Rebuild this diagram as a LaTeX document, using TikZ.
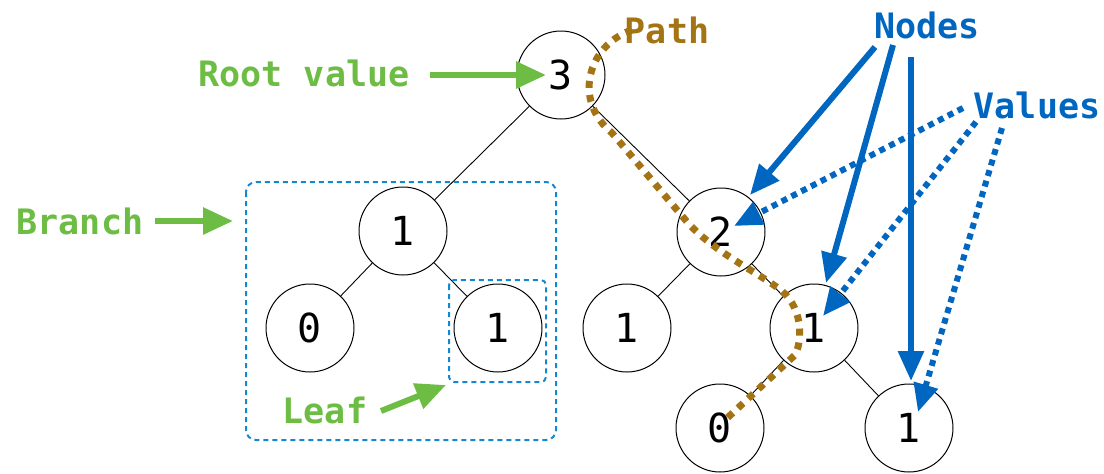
\documentclass[tikz,border=0pt]{standalone}
\usepackage{fontspec}
\newfontfamily\monofont{DejaVu Sans Mono}
\usetikzlibrary{arrows.meta}
\definecolor{lgreen}{RGB}{109,189,69}
\definecolor{dblue}{RGB}{0,102,192}
\definecolor{boxblue}{RGB}{20,135,210}
\definecolor{pbrown}{RGB}{164,116,20}
\tikzset{
  tnode/.style={circle,draw,line width=1pt,minimum size=88pt,inner sep=0pt,font=\fontsize{40}{40}\selectfont\monofont},
  tedge/.style={line width=0.9pt},
  lbl/.style={font=\fontsize{35}{35}\selectfont\monofont\bfseries,inner sep=0pt},
  garrow/.style={lgreen,line width=6pt,-{Triangle[length=30pt,width=26pt]}},
  barrow/.style={dblue,line width=6pt,-{Triangle[length=30pt,width=25pt]}},
  bdot/.style={dblue,line width=6pt,dash pattern=on 6pt off 5pt,-{Triangle[length=28pt,width=24pt]}},
  dbox/.style={boxblue,line width=2pt,dash pattern=on 5pt off 4pt,rounded corners=10pt},
}
\begin{document}
\begin{tikzpicture}[x=1pt,y=-1pt]
\useasboundingbox (0,0) rectangle (1104,474);
% tree nodes
\node[tnode] (r) at (561,75) {3};
\node[tnode] (a) at (403,231) {1};
\node[tnode] (a0) at (310,328) {0};
\node[tnode] (a1) at (498,328) {1};
\node[tnode] (b) at (721,232) {2};
\node[tnode] (b0) at (627,328) {1};
\node[tnode] (b1) at (814,328) {1};
\node[tnode] (c0) at (720,428) {0};
\node[tnode] (c1) at (909,428) {1};
\draw[tedge] (r) -- (a);
\draw[tedge] (r) -- (b);
\draw[tedge] (a) -- (a0);
\draw[tedge] (a) -- (a1);
\draw[tedge] (b) -- (b0);
\draw[tedge] (b) -- (b1);
\draw[tedge] (b1) -- (c0);
\draw[tedge] (b1) -- (c1);
% dashed boxes
\draw[dbox] (246,182) rectangle (556,440);
\draw[dbox,rounded corners=5pt] (449,280) rectangle (546,382);
% labels
\node[lbl,text=lgreen] (rv) at (304,73) {Root value};
\node[lbl,text=lgreen] (br) at (80,221) {Branch};
\node[lbl,text=lgreen] (lf) at (325,410) {Leaf};
\node[lbl,text=pbrown] (pa) at (667,30) {Path};
\node[lbl,text=dblue] (nd) at (927,25) {Nodes};
\node[lbl,text=dblue] (vl) at (1037,105) {Values};
% green arrows
\coordinate (rvs) at (430,75);
\coordinate (rve) at (546,75);
\coordinate (brs) at (155,221);
\coordinate (bre) at (233,221);
\coordinate (lfs) at (381,411);
\coordinate (lfe) at (446,385);
\draw[garrow] (rvs) -- (rve);
\draw[garrow] (brs) -- (bre);
\draw[garrow] (lfs) -- (lfe);
% path
\coordinate (p0) at (632,30);
\coordinate (p1) at (612,133);
\coordinate (p2) at (688,223);
\coordinate (p3) at (778,288);
\coordinate (p4) at (795,355);
\coordinate (p5) at (724,421);
\draw[pbrown,line width=7pt,dash pattern=on 7pt off 7pt]
  (p0) .. controls (588,45) and (572,100) .. (p1) -- (p2)
  .. controls (715,252) and (750,268) .. (p3)
  .. controls (803,305) and (803,340) .. (p4) -- (p5);
% blue arrows
\coordinate (n1s) at (875,47);
\coordinate (n2s) at (893,45);
\coordinate (n3s) at (911,57);
\coordinate (n1e) at (750,195);
\coordinate (n2e) at (826,283);
\coordinate (n3e) at (911,381);
\draw[barrow] (n1s) -- (n1e);
\draw[barrow] (n2s) -- (n2e);
\draw[barrow] (n3s) -- (n3e);
\coordinate (v1s) at (963,108);
\coordinate (v2s) at (976,122);
\coordinate (v3s) at (1002,128);
\coordinate (v1e) at (734,226);
\coordinate (v2e) at (823,316);
\coordinate (v3e) at (918,412);
\draw[bdot] (v1s) -- (v1e);
\draw[bdot] (v2s) -- (v2e);
\draw[bdot] (v3s) -- (v3e);
\end{tikzpicture}
\end{document}
